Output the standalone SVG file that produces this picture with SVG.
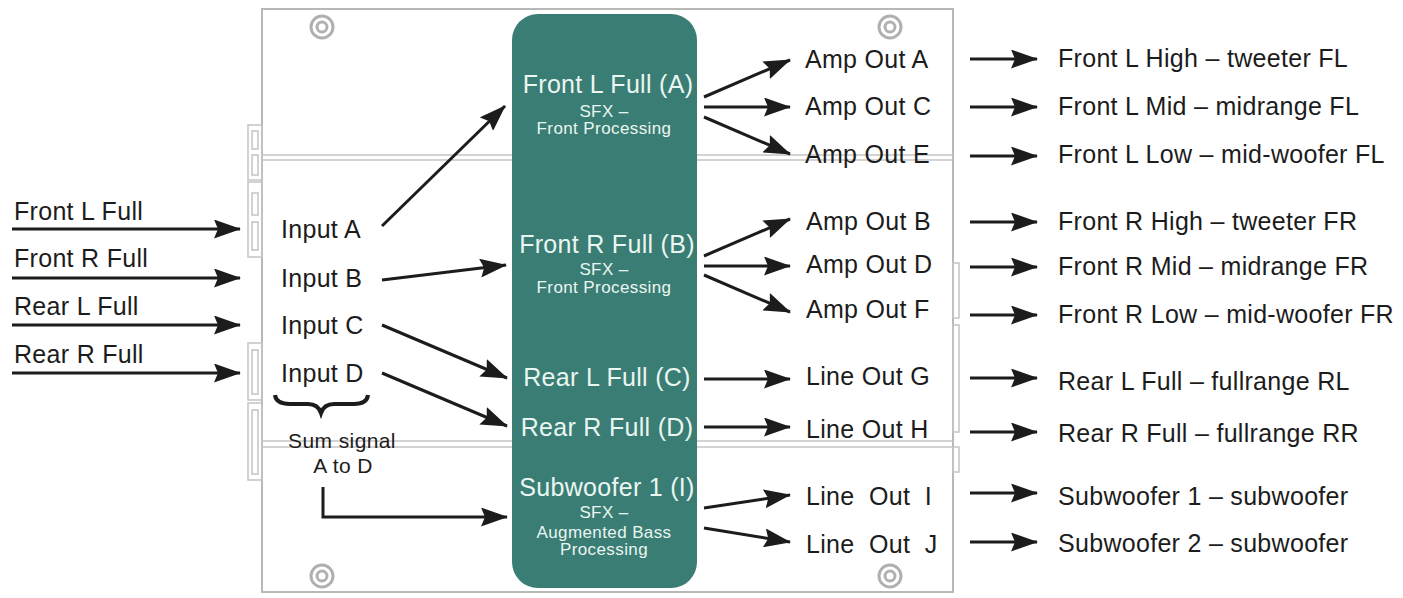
<svg xmlns="http://www.w3.org/2000/svg" width="1403" height="598" viewBox="0 0 1403 598">
<defs>
<marker id="ah" viewBox="0 0 27 19" refX="26" refY="9.5" markerWidth="27" markerHeight="19" markerUnits="userSpaceOnUse" orient="auto">
<path d="M0,0 L27,9.5 L0,19 L4,9.5 Z" fill="#1c1c1c"/>
</marker>
<style>
.t{font-family:"Liberation Sans",Arial,sans-serif;font-size:25px;fill:#1c1c1c;letter-spacing:0.3px}
.s{font-family:"Liberation Sans",Arial,sans-serif;font-size:21px;fill:#1c1c1c;letter-spacing:0.4px}
.w{font-family:"Liberation Sans",Arial,sans-serif;font-size:25px;fill:#eaf6f1;letter-spacing:0.3px;text-anchor:middle}
.ws{font-family:"Liberation Sans",Arial,sans-serif;font-size:17px;fill:#eaf6f1;letter-spacing:0.4px;text-anchor:middle}
.c{fill:none;stroke:#1c1c1c;stroke-width:3;marker-end:url(#ah)}
.p{fill:none;stroke:#b8b8b8;stroke-width:2}
.pt{fill:none;stroke:#c4c4c4;stroke-width:1.5}
.scr{fill:none;stroke:#b0b0b0;stroke-width:3}
</style>
</defs>
<rect width="1403" height="598" fill="#ffffff"/>

<g id="panel">
<rect x="262" y="9" width="691" height="583" fill="#ffffff" class="p"/>
<line x1="262" y1="155" x2="953" y2="155" class="pt"/>
<line x1="262" y1="160" x2="953" y2="160" class="pt"/>
<line x1="262" y1="441" x2="953" y2="441" class="pt"/>
<line x1="262" y1="447" x2="953" y2="447" class="pt"/>
<rect x="248" y="125" width="14" height="55" class="pt"/>
<rect x="252" y="131" width="6" height="18" class="pt"/>
<rect x="252" y="155" width="6" height="20" class="pt"/>
<rect x="248" y="182" width="14" height="75" class="pt"/>
<rect x="252" y="193" width="6" height="22" class="pt"/>
<rect x="252" y="222" width="6" height="28" class="pt"/>
<rect x="248" y="343" width="14" height="57" class="pt"/>
<rect x="252" y="350" width="6" height="44" class="pt"/>
<rect x="248" y="403" width="14" height="77" class="pt"/>
<rect x="252" y="410" width="6" height="64" class="pt"/>
<rect x="953" y="263" width="6" height="55" class="pt"/>
<rect x="953" y="325" width="6" height="107" class="pt"/>
<rect x="953" y="447" width="6" height="25" class="pt"/>
<circle cx="322" cy="27" r="11" class="scr"/><circle cx="322" cy="27" r="5" class="scr"/>
<circle cx="890" cy="27" r="11" class="scr"/><circle cx="890" cy="27" r="5" class="scr"/>
<circle cx="322" cy="576" r="11" class="scr"/><circle cx="322" cy="576" r="5" class="scr"/>
<circle cx="890" cy="576" r="11" class="scr"/><circle cx="890" cy="576" r="5" class="scr"/>
</g>

<g id="processor">
<rect x="512" y="14" width="185" height="574" rx="26" ry="26" fill="#3a7d74"/>
</g>
<g id="proc-a">
<text class="w" x="608" y="93">Front L Full (A)</text>
<text class="ws" x="604" y="117">SFX –</text>
<text class="ws" x="604" y="134">Front Processing</text>
</g>
<g id="proc-b">
<text class="w" x="607" y="253">Front R Full (B)</text>
<text class="ws" x="604" y="275">SFX –</text>
<text class="ws" x="604" y="293">Front Processing</text>
</g>
<g id="proc-c"><text class="w" x="607" y="386">Rear L Full (C)</text></g>
<g id="proc-d"><text class="w" x="607" y="436">Rear R Full (D)</text></g>
<g id="proc-i">
<text class="w" x="607" y="496">Subwoofer 1 (I)</text>
<text class="ws" x="604" y="518">SFX –</text>
<text class="ws" x="604" y="538">Augmented Bass</text>
<text class="ws" x="604" y="555">Processing</text>
</g>

<g id="sources">
<text class="t" x="14" y="220">Front L Full</text>
<text class="t" x="14" y="267">Front R Full</text>
<text class="t" x="14" y="315">Rear L Full</text>
<text class="t" x="14" y="363">Rear R Full</text>
</g>

<g id="inputs">
<text class="t" x="281" y="238">Input A</text>
<text class="t" x="281" y="287">Input B</text>
<text class="t" x="281" y="334">Input C</text>
<text class="t" x="281" y="382">Input D</text>
</g>

<g id="sum">
<path d="M275,395 Q276,404 290,404 L308,404 Q318,404 321,413 Q324,404 334,404 L354,404 Q367,404 368,395" fill="none" stroke="#1c1c1c" stroke-width="4"/>
<text class="s" x="342" y="448" text-anchor="middle">Sum signal</text>
<text class="s" x="343" y="473" text-anchor="middle">A to D</text>
</g>

<g id="outputs">
<text class="t" x="805" y="68">Amp Out A</text>
<text class="t" x="805" y="115">Amp Out C</text>
<text class="t" x="805" y="163">Amp Out E</text>
<text class="t" x="806" y="230">Amp Out B</text>
<text class="t" x="806" y="273">Amp Out D</text>
<text class="t" x="806" y="318">Amp Out F</text>
<text class="t" x="806" y="385">Line Out G</text>
<text class="t" x="806" y="438">Line Out H</text>
<text class="t" x="806" y="505" xml:space="preserve">Line  Out  I</text>
<text class="t" x="806" y="553" xml:space="preserve">Line  Out  J</text>
</g>

<g id="speakers">
<text class="t" x="1058" y="67">Front L High – tweeter FL</text>
<text class="t" x="1058" y="115">Front L Mid – midrange FL</text>
<text class="t" x="1058" y="163">Front L Low – mid-woofer FL</text>
<text class="t" x="1058" y="230">Front R High – tweeter FR</text>
<text class="t" x="1058" y="275">Front R Mid – midrange FR</text>
<text class="t" x="1058" y="323">Front R Low – mid-woofer FR</text>
<text class="t" x="1058" y="390">Rear L Full – fullrange RL</text>
<text class="t" x="1058" y="442">Rear R Full – fullrange RR</text>
<text class="t" x="1058" y="505">Subwoofer 1 – subwoofer</text>
<text class="t" x="1058" y="552">Subwoofer 2 – subwoofer</text>
</g>

<g id="connectors">
<line class="c" x1="12" y1="229" x2="240" y2="229"/>
<line class="c" x1="12" y1="278" x2="240" y2="278"/>
<line class="c" x1="12" y1="325" x2="240" y2="325"/>
<line class="c" x1="12" y1="373" x2="240" y2="373"/>
<line class="c" x1="382" y1="226" x2="505" y2="106"/>
<line class="c" x1="382" y1="280" x2="506" y2="265"/>
<line class="c" x1="382" y1="325" x2="507" y2="378"/>
<line class="c" x1="382" y1="373" x2="507" y2="426"/>
<path class="c" d="M323,487 L323,517 L507,517"/>
<line class="c" x1="704" y1="97" x2="790" y2="60"/>
<line class="c" x1="704" y1="107" x2="790" y2="107"/>
<line class="c" x1="704" y1="117" x2="790" y2="154"/>
<line class="c" x1="704" y1="256" x2="790" y2="219"/>
<line class="c" x1="704" y1="266" x2="790" y2="266"/>
<line class="c" x1="704" y1="275" x2="790" y2="312"/>
<line class="c" x1="704" y1="379" x2="790" y2="379"/>
<line class="c" x1="704" y1="427" x2="790" y2="427"/>
<line class="c" x1="704" y1="508" x2="790" y2="495"/>
<line class="c" x1="704" y1="528" x2="790" y2="542"/>
<line class="c" x1="970" y1="59" x2="1037" y2="59"/>
<line class="c" x1="970" y1="107" x2="1037" y2="107"/>
<line class="c" x1="970" y1="156" x2="1037" y2="156"/>
<line class="c" x1="970" y1="222" x2="1037" y2="222"/>
<line class="c" x1="970" y1="267" x2="1037" y2="267"/>
<line class="c" x1="970" y1="315" x2="1037" y2="315"/>
<line class="c" x1="970" y1="378" x2="1037" y2="378"/>
<line class="c" x1="970" y1="432" x2="1037" y2="432"/>
<line class="c" x1="970" y1="493" x2="1037" y2="493"/>
<line class="c" x1="970" y1="542" x2="1037" y2="542"/>
</g>
</svg>
